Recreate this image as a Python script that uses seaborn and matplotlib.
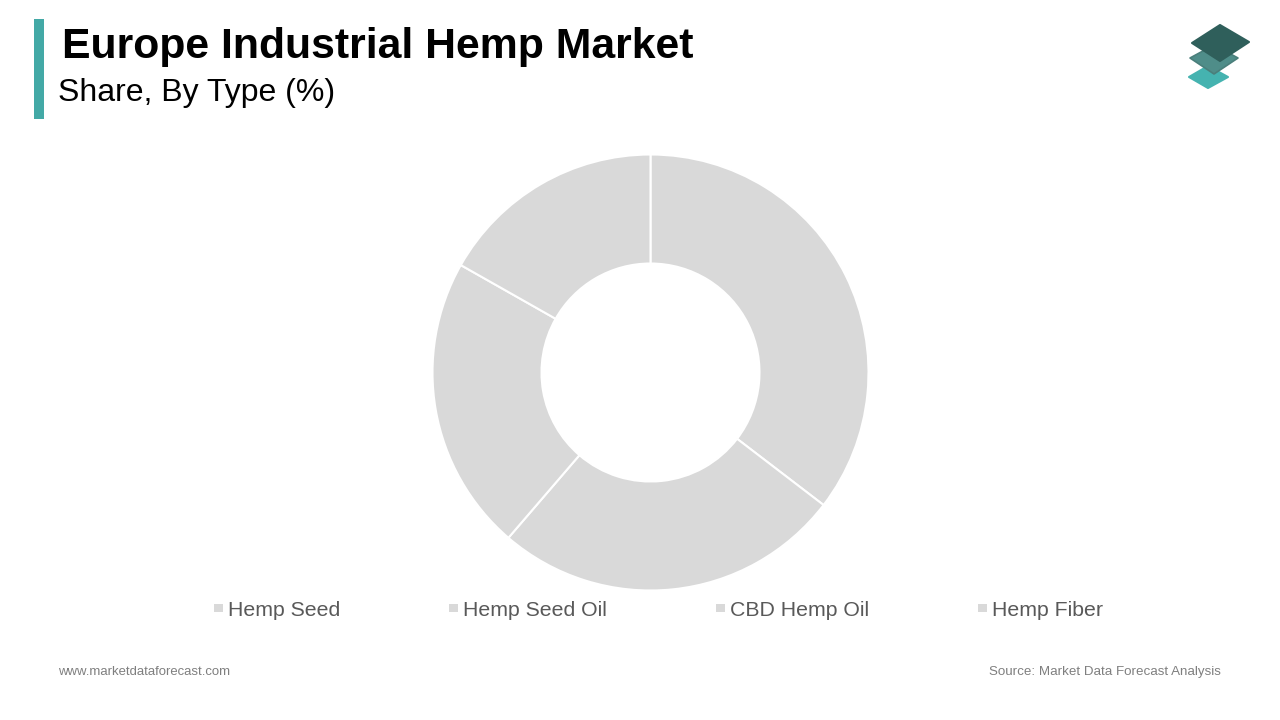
import matplotlib
matplotlib.use("Agg")
import matplotlib.pyplot as plt
from matplotlib.patches import Polygon, Rectangle
import seaborn as sns

types = ["Hemp Seed", "CBD Hemp Oil", "Hemp Fiber", "Hemp Seed Oil"]
shares = [35.4, 25.9, 21.9, 16.8]
legend_labels = ["Hemp Seed", "Hemp Seed Oil", "CBD Hemp Oil", "Hemp Fiber"]
legend_x = [214, 449, 716, 978]

sns.set_theme(style="white")
plt.rcParams["font.family"] = ["Liberation Sans", "DejaVu Sans"]

fig = plt.figure(figsize=(12.8, 7.2), dpi=100, facecolor="white")

# overlay in pixel coordinates for the header, legend and footer
bg = fig.add_axes([0, 0, 1, 1])
bg.set_xlim(0, 1280)
bg.set_ylim(720, 0)
bg.axis("off")

bg.add_patch(Rectangle((34, 19), 10, 100, color="#43a9a6", lw=0))
bg.text(62, 58, "Europe Industrial Hemp Market", fontsize=30.8, fontweight="bold",
        color="black", va="baseline", ha="left")
bg.text(58, 101, "Share, By Type (%)", fontsize=23, color="black", va="baseline", ha="left")

# logo, rounded corners come from the thin edge
bg.add_patch(Polygon([(1208, 66), (1228, 77), (1208, 88), (1189, 77)], fc="#45b3b0", ec="#45b3b0",
                     lw=1.5, joinstyle="round"))
bg.add_patch(Polygon([(1214, 45), (1238, 58), (1214, 74), (1190, 58)], fc="#4f8d89", ec="#4a7f7b",
                     lw=1.2, joinstyle="round"))
bg.add_patch(Polygon([(1220, 25), (1249, 42), (1220, 61), (1192, 43)], fc="#2f5f5b", ec="#2f5f5b",
                     lw=1.5, joinstyle="round"))

# donut
ax = fig.add_axes([(650.5 - 218) / 1280, 1 - (372.5 + 218) / 720, 436 / 1280, 436 / 720])
colors = sns.color_palette(["#d9d9d9"], len(shares))
ax.pie(shares, colors=colors, startangle=90, counterclock=False, radius=1,
       wedgeprops=dict(width=0.5, edgecolor="white", linewidth=1.5))
ax.set_xlim(-1, 1)
ax.set_ylim(-1, 1)

# legend
for name, x in zip(legend_labels, legend_x):
    bg.add_patch(Rectangle((x, 604), 9, 8, color="#d9d9d9", lw=0))
    bg.text(x + 14, 615.5, name, fontsize=15.3, color="#595959", va="baseline", ha="left")

# footer
bg.text(58.5, 675, "www.marketdataforecast.com", fontsize=9.45, color="#7f7f7f", va="baseline", ha="left")
bg.text(1221, 675, "Source: Market Data Forecast Analysis", fontsize=9.6, color="#7f7f7f",
        va="baseline", ha="right")

fig.savefig("out.png", dpi=100)
